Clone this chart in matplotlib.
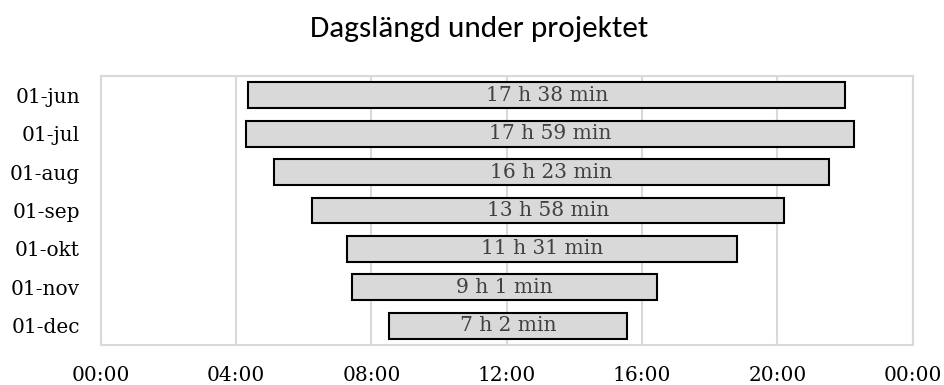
import matplotlib
matplotlib.use("Agg")
import matplotlib.pyplot as plt
from matplotlib import font_manager

# Dates, sunrise times and day lengths (hours, minutes)
dates = ["01-jun", "01-jul", "01-aug", "01-sep", "01-okt", "01-nov", "01-dec"]
sunrise = [(4, 22), (4, 17), (5, 8), (6, 14), (7, 17), (7, 26), (8, 31)]
daylength = [(17, 38), (17, 59), (16, 23), (13, 58), (11, 31), (9, 1), (7, 2)]
tick_hours = [0, 4, 8, 12, 16, 20, 24]
tick_labels = ["00:00", "04:00", "08:00", "12:00", "16:00", "20:00", "00:00"]

start = [h + m / 60 for h, m in sunrise]
length = [h + m / 60 for h, m in daylength]
labels = [f"{h} h {m} min" for h, m in daylength]

installed = {f.name for f in font_manager.fontManager.ttflist}
title_family = next((f for f in ["Carlito", "Liberation Sans Narrow", "Lato"]
                     if f in installed), "DejaVu Sans")

fig = plt.figure(figsize=(9.44, 3.85), dpi=100)
ax = fig.add_axes([100.7 / 944, 1 - 345 / 385, 812 / 944, 269 / 385])

grid_c = "#d9d9d9"
serif = "DejaVu Serif"
y = list(range(len(dates)))
ax.barh(y, length, left=start, height=0.67, color="#d9d9d9",
        edgecolor="black", linewidth=1.5, zorder=3)
for yi, s, w, lab in zip(y, start, length, labels):
    ax.text(s + w / 2, yi, lab, ha="center", va="center",
            family=serif, fontsize=14.5, color="#404040", zorder=4)

ax.set_xlim(0, 24)
ax.set_ylim(len(dates) - 0.5, -0.5)
ax.set_xticks(tick_hours)
ax.set_xticklabels(tick_labels, family=serif, fontsize=14.5)
ax.set_yticks(y)
ax.set_yticklabels(dates, family=serif, fontsize=14.5)
ax.tick_params(axis="x", length=0, pad=15)
ax.tick_params(axis="y", length=0, pad=15)
ax.xaxis.grid(True, color=grid_c, linewidth=1.5, zorder=0)
ax.set_axisbelow(True)
for sp in ax.spines.values():
    sp.set_color(grid_c)
    sp.set_linewidth(1.5)

title_size = 22.5 if title_family == "Carlito" else 18
fig.text(479 / 944, 1 - 36.7 / 385, "Dagslängd under projektet", ha="center",
         va="baseline", family=title_family, fontsize=title_size)

fig.savefig("out.png", dpi=100)
